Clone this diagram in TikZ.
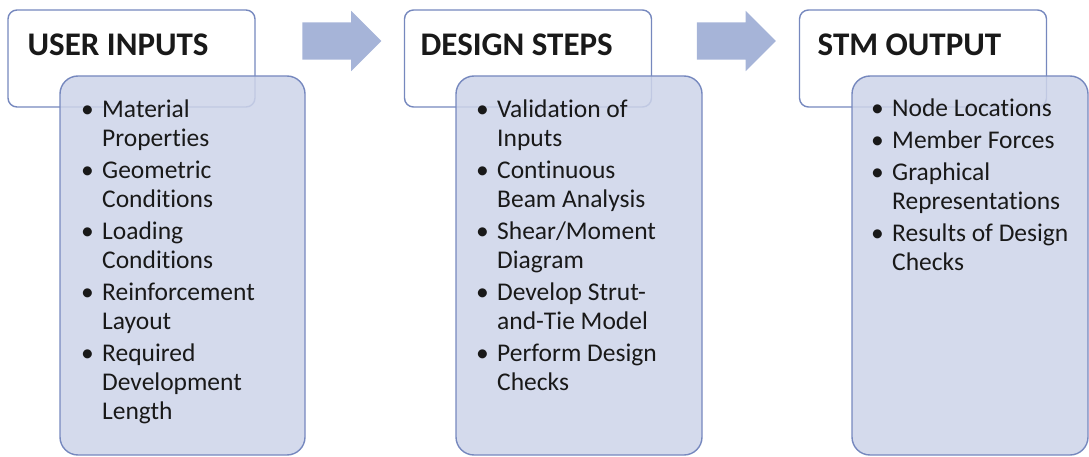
\documentclass[tikz,border=0pt]{standalone}
\usepackage{fontspec}
\setmainfont{Carlito}[Ligatures=NoCommon]
\usepackage{tikz}
\usetikzlibrary{shapes.arrows}

\definecolor{boxline}{RGB}{118,136,190}
\definecolor{boxfill}{RGB}{205,212,233}
\definecolor{arrowfill}{RGB}{166,180,216}
\definecolor{inktext}{RGB}{25,25,25}

\tikzset{
  headbox/.style={rectangle, draw=boxline, line width=1.4pt, fill=white, rounded corners=9pt, inner sep=0pt, minimum width=247pt, minimum height=97pt},
  listbox/.style={rectangle, draw=boxline, line width=1.4pt, fill=boxfill, fill opacity=0.85, rounded corners=18pt, inner sep=0pt, minimum height=379pt},
  headtext/.style={anchor=base west, inner sep=0pt, text=inktext, font=\fontsize{33}{40}\selectfont\bfseries},
  listtext/.style={anchor=base west, inner sep=0pt, text=inktext, font=\fontsize{25.5}{29}\selectfont},
  flowarrow/.style={single arrow, fill=arrowfill, draw=none, inner xsep=0pt, inner ysep=18.5pt, single arrow head extend=11.5pt, single arrow head indent=0pt, minimum height=79pt}
}
\newcommand{\bul}{\textbullet}

\begin{document}
\begin{tikzpicture}[x=1pt, y=-1pt]
\useasboundingbox (0,0) rectangle (1089,457);
\node[headbox] (H1) at (131.5,58.5) {};
\node[headbox] (H2) at (528,58.5) {};
\node[headbox] (H3) at (923,58.5) {};
\node[flowarrow] (A1) at (332.5,41) {};
\node[flowarrow] (A2) at (727,41) {};
\node[listbox, minimum width=245pt] (C1) at (182.5,265.5) {};
\node[listbox, minimum width=246pt] (C2) at (579,265.5) {};
\node[listbox, minimum width=236pt] (C3) at (970,265.5) {};
\node[headtext] (T1) at (27.5,56) {USER INPUTS};
\node[headtext] (T2) at (420.5,56) {DESIGN STEPS};
\node[headtext] (T3) at (817.5,56) {STM OUTPUT};
\node[listtext] (L1) at (81,118) {\begin{tabular}[t]{@{}p{21pt}@{}l@{}}
\bul & Material\\ & Properties\\[3pt]
\bul & Geometric\\ & Conditions\\[3pt]
\bul & Loading\\ & Conditions\\[3pt]
\bul & Reinforcement\\ & Layout\\[3pt]
\bul & Required\\ & Development\\ & Length
\end{tabular}};
\node[listtext] (L2) at (476,118) {\begin{tabular}[t]{@{}p{21pt}@{}l@{}}
\bul & Validation of\\ & Inputs\\[3pt]
\bul & Continuous\\ & Beam Analysis\\[3pt]
\bul & Shear/Moment\\ & Diagram\\[3pt]
\bul & Develop Strut-\\ & and-Tie Model\\[3pt]
\bul & Perform Design\\ & Checks
\end{tabular}};
\node[listtext] (L3) at (871,117) {\begin{tabular}[t]{@{}p{21pt}@{}l@{}}
\bul & Node Locations\\[3pt]
\bul & Member Forces\\[3pt]
\bul & Graphical\\ & Representations\\[3pt]
\bul & Results of Design\\ & Checks
\end{tabular}};
\end{tikzpicture}
\end{document}
